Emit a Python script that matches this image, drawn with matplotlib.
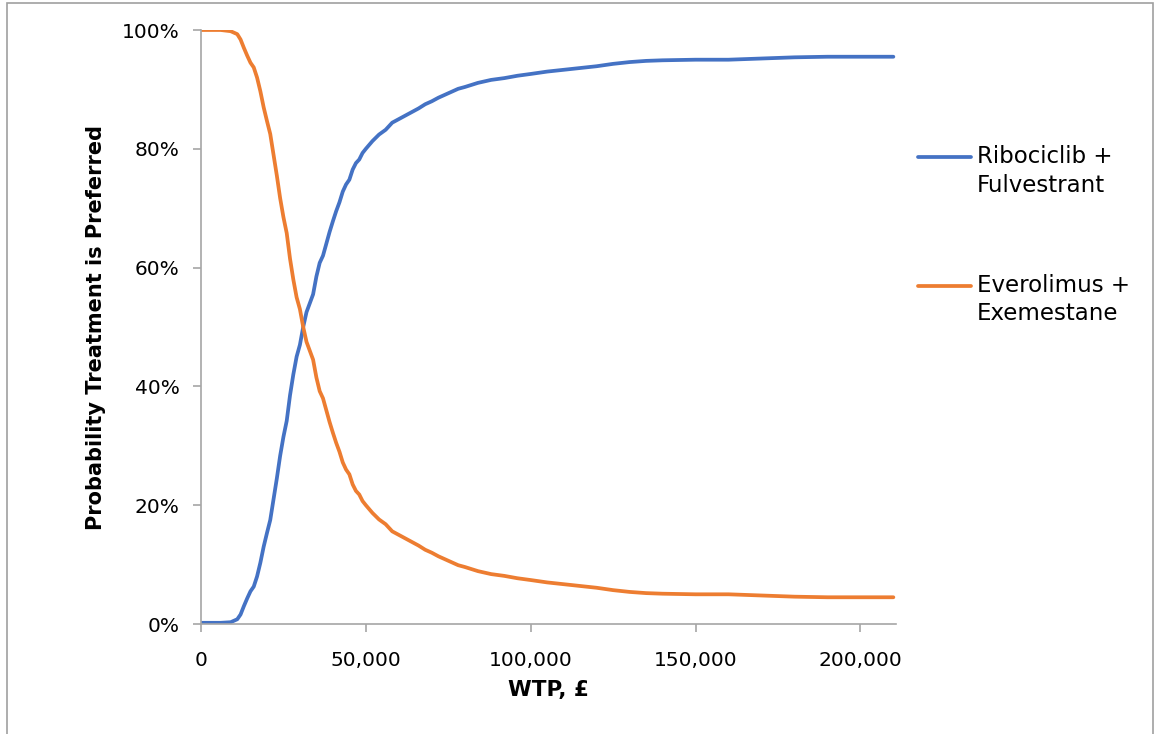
import matplotlib.pyplot as plt
from matplotlib.patches import Rectangle
from matplotlib.ticker import FuncFormatter, PercentFormatter

# willingness to pay (GBP) and probability each treatment is preferred (%)
wtp = [0, 6000, 9000, 11000,
       12000, 13000, 14000, 15000, 16000, 17000, 18000, 19000, 20000, 21000,
       22000, 23000, 24000, 25000, 26000, 27000, 28000, 29000, 30000, 31000,
       32000, 33000, 34000, 35000, 36000, 37000, 38000, 39000, 40000, 41000,
       42000, 43000, 44000, 45000, 46000, 47000, 48000, 49000, 50000,
       52000, 54000, 56000, 58000, 60000, 62000, 64000, 66000, 68000, 70000,
       72000, 74000, 76000, 78000, 80000,
       84000, 88000, 92000, 96000, 100000,
       105000, 110000, 115000, 120000, 125000, 130000, 135000, 140000,
       150000, 160000, 170000, 180000, 190000, 200000, 210000]

ribociclib = [0.2, 0.2, 0.3, 0.8,
              1.6, 3.0, 4.3, 5.5, 6.3, 8.0, 10.3, 13.0, 15.3, 17.5,
              21.0, 24.5, 28.3, 31.5, 34.2, 38.5, 42.0, 45.0, 47.0, 50.0,
              52.5, 54.0, 55.5, 58.5, 60.8, 62.0, 64.0, 66.0, 67.8, 69.5,
              71.0, 72.8, 74.0, 74.8, 76.5, 77.6, 78.2, 79.3, 80.0,
              81.3, 82.4, 83.2, 84.4, 85.0, 85.6, 86.2, 86.8, 87.5, 88.0,
              88.6, 89.1, 89.6, 90.1, 90.4,
              91.1, 91.6, 91.9, 92.3, 92.6,
              93.0, 93.3, 93.6, 93.9, 94.3, 94.6, 94.8, 94.9,
              95.0, 95.0, 95.2, 95.4, 95.5, 95.5, 95.5]

everolimus = [100, 100, 99.8, 99.3,
              98.4, 97.0, 95.7, 94.5, 93.7, 92.0, 89.7, 87.0, 84.7, 82.5,
              79.0, 75.5, 71.7, 68.5, 65.8, 61.5, 58.0, 55.0, 53.0, 50.0,
              47.5, 46.0, 44.5, 41.5, 39.2, 38.0, 36.0, 34.0, 32.2, 30.5,
              29.0, 27.2, 26.0, 25.2, 23.5, 22.4, 21.8, 20.7, 20.0,
              18.7, 17.6, 16.8, 15.6, 15.0, 14.4, 13.8, 13.2, 12.5, 12.0,
              11.4, 10.9, 10.4, 9.9, 9.6,
              8.9, 8.4, 8.1, 7.7, 7.4,
              7.0, 6.7, 6.4, 6.1, 5.7, 5.4, 5.2, 5.1,
              5.0, 5.0, 4.8, 4.6, 4.5, 4.5, 4.5]

labels = ["Ribociclib +\nFulvestrant", "Everolimus +\nExemestane"]
colors = ["#4472C4", "#ED7D31"]
axis_grey = "#A6A6A6"

plt.rcParams["font.family"] = "DejaVu Sans"

fig = plt.figure(figsize=(11.56, 7.34), dpi=100)
ax = fig.add_axes([201 / 1156, 110 / 734, 695 / 1156, 594 / 734])

ax.plot(wtp, ribociclib, color=colors[0], lw=2.7, label=labels[0],
        solid_capstyle="round", solid_joinstyle="round")
ax.plot(wtp, everolimus, color=colors[1], lw=2.7, label=labels[1],
        solid_capstyle="round", solid_joinstyle="round")

ax.set_xlim(0, 210800)
ax.set_ylim(0, 100)
ax.set_xticks([0, 50000, 100000, 150000, 200000])
ax.set_yticks([0, 20, 40, 60, 80, 100])
ax.xaxis.set_major_formatter(FuncFormatter(lambda v, p: f"{int(v):,}"))
ax.yaxis.set_major_formatter(PercentFormatter(decimals=0))

for side in ["top", "right"]:
    ax.spines[side].set_visible(False)
for side in ["left", "bottom"]:
    ax.spines[side].set_color(axis_grey)
    ax.spines[side].set_linewidth(1.2)
ax.tick_params(axis="both", direction="out", length=5.5, width=1.2,
               color=axis_grey, labelsize=14.5)
ax.tick_params(axis="x", pad=14)
ax.tick_params(axis="y", pad=10)

ax.set_xlabel("WTP, £", fontsize=15.5, fontweight="bold", labelpad=7)
ax.set_ylabel("Probability Treatment is Preferred", fontsize=15,
              fontweight="bold", labelpad=11)

leg = fig.legend(loc="upper left", bbox_to_anchor=(909 / 1156, 1 - 136 / 734),
                 frameon=False, fontsize=16.5, handlelength=2.3,
                 handletextpad=0.26, handleheight=2.0,
                 labelspacing=3.37, borderaxespad=0)
for t in leg.get_texts():
    t.set_linespacing(1.3)
# Excel puts the legend key beside the first line of a wrapped label
for ln in leg.get_lines():
    ln.set_ydata([y + 7.5 for y in ln.get_ydata()])

# outer chart border
fig.patches.append(Rectangle((7 / 1156, -0.05), 1146 / 1156, 1.05 - 3 / 734,
                             transform=fig.transFigure, fill=False,
                             edgecolor="#A0A0A0", linewidth=1.2))

fig.savefig("out.png", dpi=100)
